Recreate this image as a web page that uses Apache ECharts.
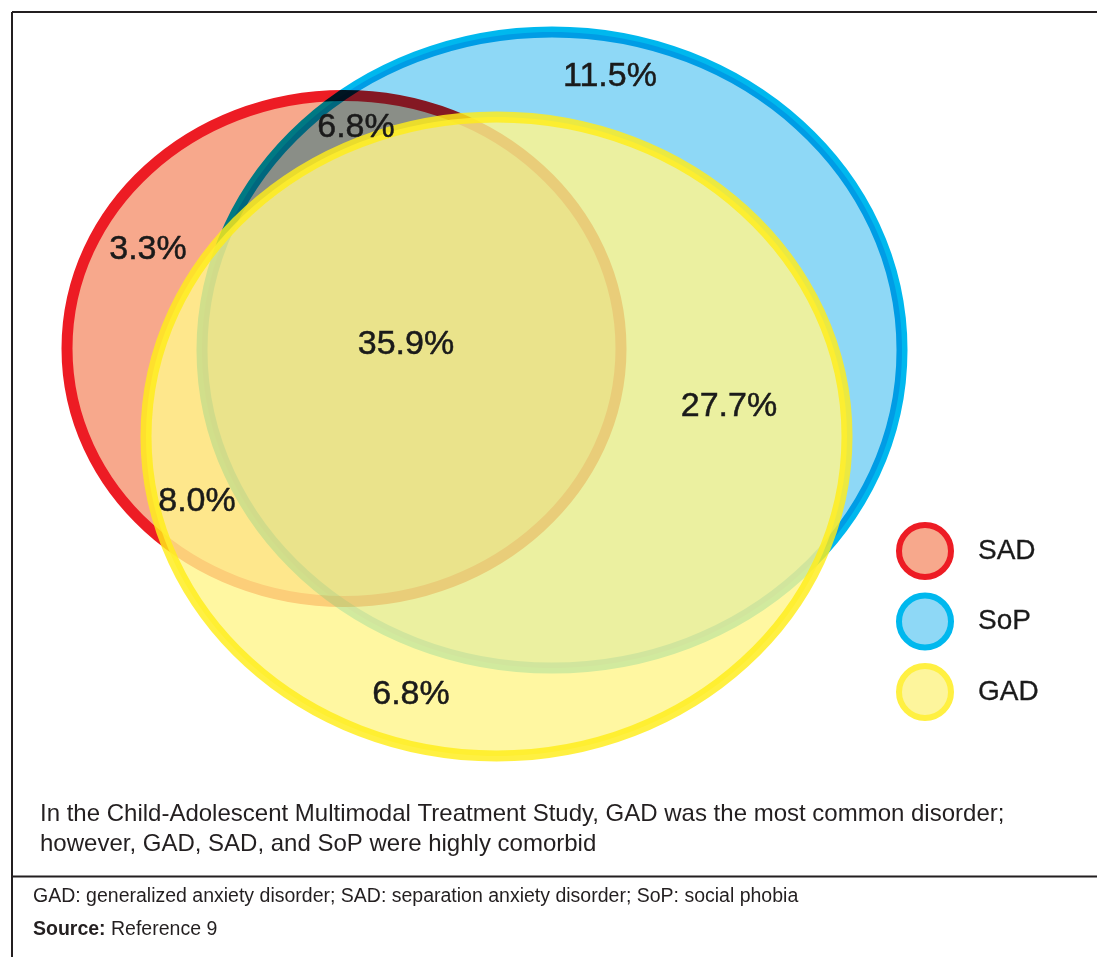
<!DOCTYPE html>
<html>
<head>
<meta charset="utf-8">
<title>SAD / SoP / GAD comorbidity</title>
<script src="https://cdn.jsdelivr.net/npm/echarts@6/dist/echarts.min.js"></script>
<style>
  html, body { margin: 0; padding: 0; background: #fff; }
  #chart { width: 1097px; height: 957px; }
</style>
</head>
<body>
<div id="chart"></div>
<script>
// the three sets
const setNames = ['SAD', 'SoP', 'GAD'];

// region percentages (CAMS study)
const regionNames = ['SoP only', 'SAD + SoP', 'SAD only', 'SAD + SoP + GAD', 'SoP + GAD', 'SAD + GAD', 'GAD only'];
const regionValues = [11.5, 6.8, 3.3, 35.9, 27.7, 8.0, 6.8];

// layout, in page pixels (the hidden axes run 0..1097 and 0..957)
const setShape = [
  [344, 348.5, 277, 253],   // SAD  cx, cy, rx, ry
  [552, 350, 350, 318],     // SoP
  [496.5, 436.5, 350.5, 319.5] // GAD
];
const regionPos = [[610, 77], [356, 128], [148, 250], [406, 345], [729, 407], [197, 502], [411, 695]];

// styles
const setFill = ['#f7a88c', '#8ed8f6', '#fff58c'];
const setStroke = ['#ed1c24', '#00b8ee', '#ffed18'];
const setBlend = [null, 'multiply', null];
const setOpacity = [1, 1, 0.82];
const legendFill = ['#f7a88c', '#8ed8f6', '#fdf59c'];
const legendStroke = ['#ed1c24', '#00b8ee', '#fff042'];

const textColor = '#1a1a1a';
const font = 'Liberation Sans, Arial, Helvetica, sans-serif';

function ellipseItem(i) {
  return function (params, api) {
    const c = api.coord([api.value(0), api.value(1)]);
    const e = api.coord([api.value(0) + api.value(2), api.value(1) + api.value(3)]);
    return {
      type: 'ellipse',
      shape: { cx: c[0], cy: c[1], rx: Math.abs(e[0] - c[0]), ry: Math.abs(e[1] - c[1]) },
      style: {
        fill: setFill[i],
        stroke: setStroke[i],
        lineWidth: 11,
        opacity: setOpacity[i]
      }
    };
  };
}

const ellipseSeries = setNames.map((name, i) => ({
  name: name,
  type: 'custom',
  silent: true,
  animation: false,
  blendMode: setBlend[i],
  z: 2,
  renderItem: ellipseItem(i),
  data: [setShape[i]]
}));

const labelSeries = {
  name: 'regions',
  type: 'custom',
  silent: true,
  animation: false,
  z: 5,
  renderItem: function (params, api) {
    const p = api.coord([api.value(0), api.value(1)]);
    return {
      type: 'text',
      x: p[0],
      y: p[1],
      style: {
        text: api.value(2).toFixed(1) + '%',
        fontSize: 34,
        fontFamily: font,
        fill: textColor,
        stroke: textColor,
        lineWidth: 0.5,
        align: 'center',
        verticalAlign: 'middle'
      }
    };
  },
  data: regionPos.map((p, i) => [p[0], p[1], regionValues[i], regionNames[i]])
};

const chart = echarts.init(document.getElementById('chart'));
chart.setOption({
  backgroundColor: '#fff',
  animation: false,
  grid: { left: 0, right: 0, top: 0, bottom: 0 },
  xAxis: { type: 'value', min: 0, max: 1097, show: false },
  yAxis: { type: 'value', min: 0, max: 957, inverse: true, show: false },
  legend: {
    orient: 'vertical',
    left: 891,
    top: 517,
    itemWidth: 52,
    itemHeight: 52,
    itemGap: 12.5,
    icon: 'circle',
    selectedMode: false,
    textStyle: {
      fontSize: 28, color: textColor, fontFamily: font, padding: [0, 0, 0, 22],
      textBorderColor: textColor, textBorderWidth: 0.3
    },
    data: setNames.map((n, i) => ({
      name: n,
      itemStyle: { color: legendFill[i], borderColor: legendStroke[i], borderWidth: 6 }
    }))
  },
  series: ellipseSeries.concat([labelSeries]),
  graphic: [
    { type: 'line', shape: { x1: 12, y1: 12, x2: 1097, y2: 12 }, style: { stroke: '#231f20', lineWidth: 2 } },
    { type: 'line', shape: { x1: 12, y1: 12, x2: 12, y2: 957 }, style: { stroke: '#231f20', lineWidth: 2 } },
    { type: 'line', shape: { x1: 12, y1: 876.5, x2: 1097, y2: 876.5 }, style: { stroke: '#231f20', lineWidth: 2 } },
    {
      type: 'text', x: 40, y: 814,
      style: {
        text: 'In the Child-Adolescent Multimodal Treatment Study, GAD was the most common disorder;',
        fontSize: 24, fontFamily: font, fill: '#231f20', verticalAlign: 'middle'
      }
    },
    {
      type: 'text', x: 40, y: 844,
      style: {
        text: 'however, GAD, SAD, and SoP were highly comorbid',
        fontSize: 24, fontFamily: font, fill: '#231f20', verticalAlign: 'middle'
      }
    },
    {
      type: 'text', x: 33, y: 897,
      style: {
        text: 'GAD: generalized anxiety disorder; SAD: separation anxiety disorder; SoP: social phobia',
        fontSize: 19.5, fontFamily: font, fill: '#231f20', verticalAlign: 'middle'
      }
    },
    {
      type: 'text', x: 33, y: 930,
      style: {
        text: '{b|Source:} Reference 9',
        fontSize: 19.5, fontFamily: font, fill: '#231f20', verticalAlign: 'middle',
        rich: { b: { fontSize: 19.5, fontFamily: font, fontWeight: 'bold', fill: '#231f20' } }
      }
    }
  ]
});
</script>
</body>
</html>
